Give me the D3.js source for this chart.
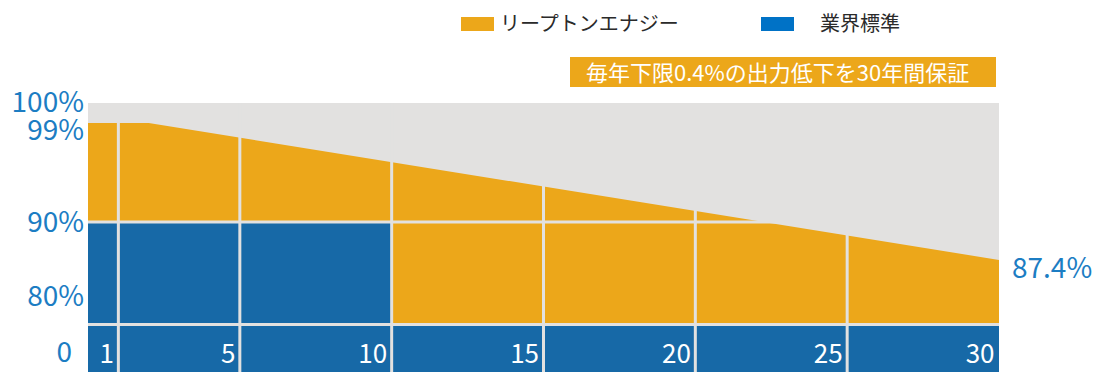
<!DOCTYPE html>
<html>
<head>
<meta charset="utf-8">
<script src="https://cdn.jsdelivr.net/npm/d3@7"></script>
<style>
  html, body { margin: 0; padding: 0; background: #fff; }
  svg { display: block; font-family: "Noto Sans CJK JP", "Noto Sans", sans-serif; }
</style>
</head>
<body>
<svg id="chart" width="1096" height="372"></svg>
<script>
// Output guarantee over the panel lifetime (years → % of rated output)
const seriesNames = ["リープトンエナジー", "業界標準"];
const warrantyYears = [0, 2, 30];
const warrantyOutput = [99, 99, 87.4];
const standardYears = [0, 10];
const standardOutput = [90, 90];

const xTickValues = [1, 5, 10, 15, 20, 25, 30];
const yTickValues = [100, 99, 90, 80, 0];
const yTickLabels = ["100%", "99%", "90%", "80%", "0"];
const bannerText = "毎年下限0.4%の出力低下を30年間保証";

const colors = {
  orange: "#eca71a",
  bar: "#1769a7",
  swatchBlue: "#0072c6",
  text: "#1c7dc3",
  grey: "#e2e1e0",
  legendText: "#2a2a2a"
};

const plot = { left: 88, right: 999, top: 103, bottom: 372, bandTop: 326 };

const svg = d3.select("#chart");

const x = d3.scaleLinear().domain([0, 30]).range([plot.left, plot.right]);
// broken value axis: the 90–100 % stretch is expanded
const y = d3.scaleLinear().domain([85, 90, 99, 100]).range([295, 222, 123, plot.top]);
// the axis labels sit on their own scale because the axis is broken below 80 %
const yLabel = d3.scaleLinear().domain([0, 80, 90, 99, 100]).range([353, 297, 223, 131, 103]);

const warranty = warrantyYears.map((yr, i) => ({ year: yr, value: warrantyOutput[i] }));
const standard = standardYears.map((yr, i) => ({ year: yr, value: standardOutput[i] }));

// background of the plotting area
svg.append("rect")
  .attr("x", plot.left).attr("y", plot.top)
  .attr("width", plot.right - plot.left).attr("height", plot.bottom - plot.top)
  .attr("fill", colors.grey);

// guaranteed output area
svg.append("path")
  .datum(warranty)
  .attr("fill", colors.orange)
  .attr("d", d3.area().x(d => x(d.year)).y0(plot.bottom).y1(d => y(d.value)));

// industry standard block
svg.append("rect")
  .attr("x", x(standard[0].year))
  .attr("y", y(standard[0].value))
  .attr("width", x(standard[standard.length - 1].year) - x(standard[0].year))
  .attr("height", plot.bottom - y(standard[0].value))
  .attr("fill", colors.bar);

// year band along the bottom
svg.append("rect")
  .attr("x", plot.left).attr("y", plot.bandTop)
  .attr("width", plot.right - plot.left).attr("height", plot.bottom - plot.bandTop)
  .attr("fill", colors.bar);

// separators
const grid = svg.append("g").attr("stroke", colors.grey).attr("stroke-width", 3);
grid.selectAll("line.v")
  .data(xTickValues.filter(t => t < x.domain()[1]))
  .join("line")
  .attr("class", "v")
  .attr("x1", d => x(d)).attr("x2", d => x(d))
  .attr("y1", plot.top).attr("y2", plot.bottom);
grid.append("line")
  .attr("x1", plot.left).attr("x2", plot.right)
  .attr("y1", plot.bandTop - 1.5).attr("y2", plot.bandTop - 1.5);
grid.append("line")
  .attr("x1", plot.left).attr("x2", plot.right)
  .attr("y1", y(standard[0].value)).attr("y2", y(standard[0].value));

// year labels, right-aligned inside each cell
const xAxis = svg.append("g")
  .attr("transform", `translate(0, 363)`)
  .call(d3.axisBottom(x).tickValues(xTickValues).tickSize(0).tickPadding(0));
xAxis.select(".domain").remove();
xAxis.selectAll("text")
  .attr("y", 0).attr("dy", null).attr("x", -5)
  .attr("text-anchor", "end")
  .attr("fill", "#fff")
  .style("font-size", "26px")
  .style("font-family", "\"Noto Sans CJK JP\", \"Noto Sans\", sans-serif");

// percentage labels
const yAxis = svg.append("g")
  .attr("transform", `translate(84, 0)`)
  .call(d3.axisLeft(yLabel).tickValues(yTickValues)
    .tickFormat((d, i) => yTickLabels[i]).tickSize(0).tickPadding(0));
yAxis.select(".domain").remove();
yAxis.selectAll("text")
  .attr("fill", colors.text)
  .attr("x", d => d === 0 ? -12 : 0)
  .style("font-size", "28px")
  .style("font-family", "\"Noto Sans CJK JP\", \"Noto Sans\", sans-serif");

// end value label
const last = warranty[warranty.length - 1];
svg.append("text")
  .attr("x", plot.right + 13)
  .attr("y", y(last.value) + 18)
  .attr("fill", colors.text)
  .style("font-size", "28px")
  .text(`${last.value}%`);

// legend
const legend = svg.append("g");
const legendItems = [
  { name: seriesNames[0], color: colors.orange, x: 461, tx: 500 },
  { name: seriesNames[1], color: colors.swatchBlue, x: 761, tx: 820 }
];
legend.selectAll("rect")
  .data(legendItems)
  .join("rect")
  .attr("x", d => d.x).attr("y", 17)
  .attr("width", 33).attr("height", 14)
  .attr("fill", d => d.color);
legend.selectAll("text")
  .data(legendItems)
  .join("text")
  .attr("x", d => d.tx).attr("y", 31)
  .attr("fill", colors.legendText)
  .style("font-size", "20px")
  .text(d => d.name);

// banner
svg.append("rect")
  .attr("x", 570).attr("y", 57)
  .attr("width", 426).attr("height", 30)
  .attr("fill", colors.orange);
svg.append("text")
  .attr("x", 586).attr("y", 81)
  .attr("fill", "#fff")
  .style("font-size", "22px")
  .text(bannerText);
</script>
</body>
</html>
